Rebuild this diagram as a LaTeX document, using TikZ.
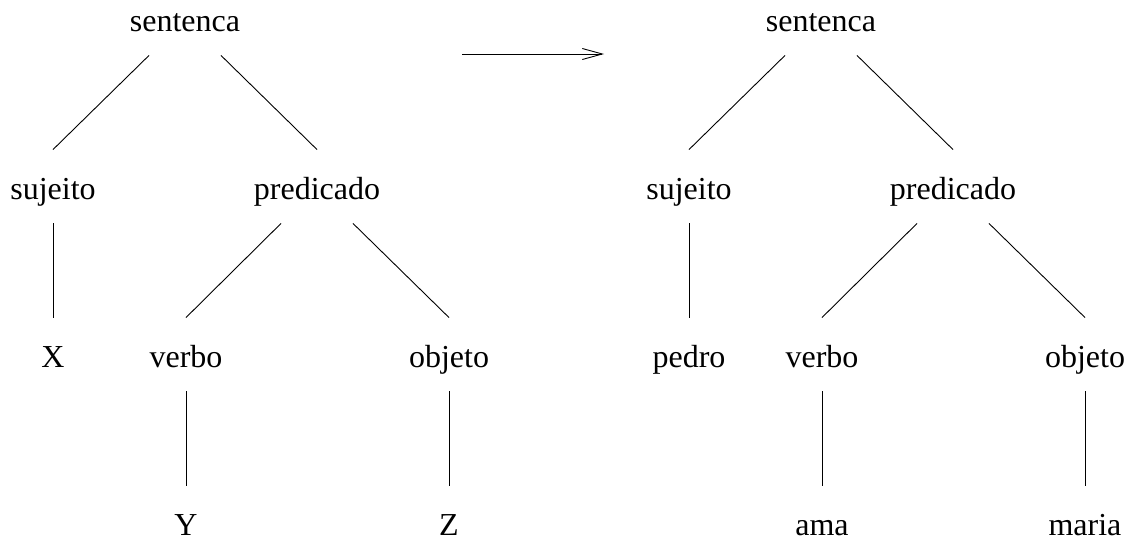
\documentclass[tikz,border=0pt]{standalone}
\usepackage{fontspec}
\setmainfont{Liberation Serif}
\usetikzlibrary{arrows.meta, positioning}

\tikzset{
  word/.style={inner sep=0pt, anchor=base, text height=49pt, text depth=24pt},
}

\begin{document}
\begin{tikzpicture}[x=1pt, y=-1pt, line width=0.9pt, font=\fontsize{32}{38}\selectfont]
        \useasboundingbox (0,0) rectangle (1133,541);

        % left tree
        \node[word] (s0) at (185,31) {sentenca};
        \node[word] (su0) at (53,199) {sujeito};
        \node[word] (p0) at (317,199) {predicado};
        \node[word] (x0) at (53,367) {X};
        \node[word] (v0) at (186,367) {verbo};
        \node[word] (o0) at (449,367) {objeto};
        \node[word] (y0) at (186,535) {Y};
        \node[word] (z0) at (449,535) {Z};

        % right tree
        \node[word] (s1) at (821,31) {sentenca};
        \node[word] (su1) at (689,199) {sujeito};
        \node[word] (p1) at (953,199) {predicado};
        \node[word] (x1) at (689,367) {pedro};
        \node[word] (v1) at (822,367) {verbo};
        \node[word] (o1) at (1085,367) {objeto};
        \node[word] (y1) at (822,535) {ama};
        \node[word] (z1) at (1085,535) {maria};

        \foreach \t in {0,1} {
            \path[-] ([xshift=-36pt]s\t.south) edge (su\t.north);
            \path[-] ([xshift=36pt]s\t.south) edge (p\t.north);
            \path[-] (su\t.south) edge (x\t.north);
            \path[-] ([xshift=-36pt]p\t.south) edge (v\t.north);
            \path[-] ([xshift=36pt]p\t.south) edge (o\t.north);
            \path[-] (v\t.south) edge (y\t.north);
            \path[-] (o\t.south) edge (z\t.north);
        }

        \coordinate (a0) at (462,54);
        \coordinate (a1) at (604,54);
        \path[-{Straight Barb[length=20pt,width=11pt]}] (a0) edge (a1);

    \end{tikzpicture}
\end{document}
